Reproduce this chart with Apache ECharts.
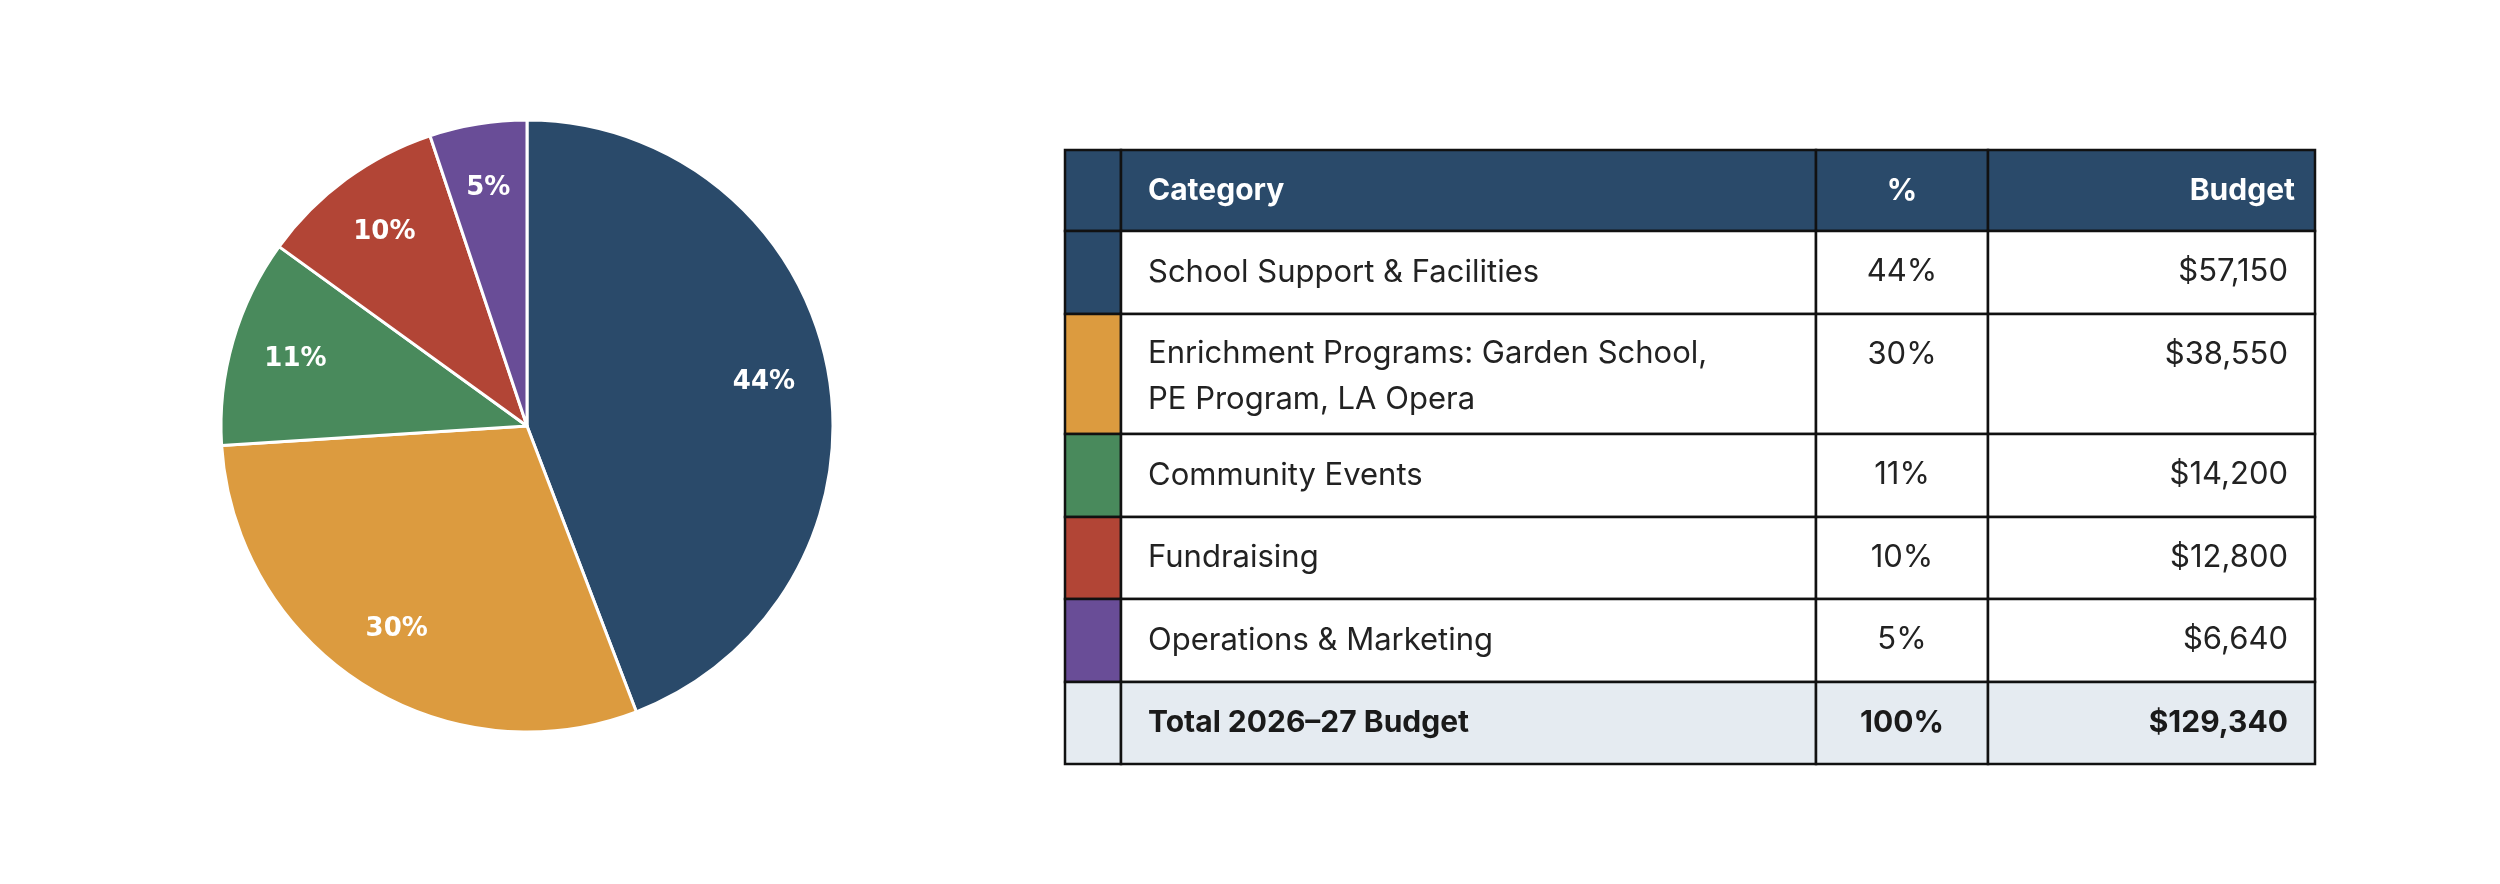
<!DOCTYPE html>
<html><head><meta charset="utf-8">
<script src="https://cdn.jsdelivr.net/npm/echarts@6/dist/echarts.min.js"></script>
<style>html,body{margin:0;padding:0;background:#fff}#main{width:2500px;height:884px}</style>
</head><body><div id="main"></div>
<script>
var categories = ['School Support & Facilities', 'Enrichment Programs: Garden School,\nPE Program, LA Opera', 'Community Events', 'Fundraising', 'Operations & Marketing'];
var budgets = [57150, 38550, 14200, 12800, 6640];
var pctLabels = ['44%', '30%', '11%', '10%', '5%'];
var budgetLabels = ['$57,150', '$38,550', '$14,200', '$12,800', '$6,640'];
var colors = ['#2a4a6a', '#dc9b3f', '#498a5c', '#b24536', '#694d97'];
var headers = ['Category', '%', 'Budget'];
var totalRow = ['Total 2026\u201327 Budget', '100%', '$129,340'];

var chart = echarts.init(document.getElementById('main'));
var font = 'Inter, "Noto Sans", sans-serif';

// table layout
var colX = [1065, 1121, 1816, 1988, 2315];
var rowY = [150, 231, 314, 434, 517, 599, 682, 764];
var g = [];
function cell(x0, x1, y0, y1, fill) {
  g.push({type: 'rect', shape: {x: x0, y: y0, width: x1 - x0, height: y1 - y0},
    style: {fill: fill, stroke: '#111', lineWidth: 2.5}});
}
function txt(s, x, y, align, bold, color) {
  g.push({type: 'text', x: x, y: y, style: {text: s, align: align, verticalAlign: 'middle',
    font: (bold ? '700 ' : '400 ') + (bold ? '30px ' : '31px ') + font, lineHeight: 46, fill: color}, z: 10});
}
// header
cell(colX[0], colX[1], rowY[0], rowY[1], colors[0]);
cell(colX[1], colX[2], rowY[0], rowY[1], colors[0]);
cell(colX[2], colX[3], rowY[0], rowY[1], colors[0]);
cell(colX[3], colX[4], rowY[0], rowY[1], colors[0]);
txt(headers[0], colX[1] + 27, (rowY[0] + rowY[1]) / 2, 'left', true, '#fff');
txt(headers[1], (colX[2] + colX[3]) / 2, (rowY[0] + rowY[1]) / 2, 'center', true, '#fff');
txt(headers[2], colX[4] - 20, (rowY[0] + rowY[1]) / 2, 'right', true, '#fff');
categories.forEach(function (c, i) {
  var y0 = rowY[i + 1], y1 = rowY[i + 2];
  cell(colX[0], colX[1], y0, y1, colors[i]);
  cell(colX[1], colX[2], y0, y1, '#fff');
  cell(colX[2], colX[3], y0, y1, '#fff');
  cell(colX[3], colX[4], y0, y1, '#fff');
  var ty = c.indexOf('\n') >= 0 ? y0 + 40 + 23 : (y0 + y1) / 2;
  txt(c, colX[1] + 27, ty, 'left', false, '#222');
  var ny = y0 + 41;
  txt(pctLabels[i], (colX[2] + colX[3]) / 2, ny, 'center', false, '#222');
  txt(budgetLabels[i], colX[4] - 27, ny, 'right', false, '#222');
});
var ty0 = rowY[6], ty1 = rowY[7];
for (var k = 0; k < 4; k++) cell(colX[k], colX[k + 1], ty0, ty1, '#e5ebf1');
txt(totalRow[0], colX[1] + 27, (ty0 + ty1) / 2, 'left', true, '#1a1a1a');
txt(totalRow[1], (colX[2] + colX[3]) / 2, (ty0 + ty1) / 2, 'center', true, '#1a1a1a');
txt(totalRow[2], colX[4] - 27, (ty0 + ty1) / 2, 'right', true, '#1a1a1a');

var pieData = budgets.map(function (v, i) { return {value: v, name: categories[i], itemStyle: {color: colors[i]}}; });
chart.setOption({
  animation: false,
  series: [{
    type: 'pie', center: [527, 426], radius: [0, 306], startAngle: 90, clockwise: true,
    itemStyle: {borderColor: '#fff', borderWidth: 3},
    label: {show: false}, labelLine: {show: false}, data: pieData
  }, {
    type: 'pie', center: [527, 426], radius: [170, 306], startAngle: 90, clockwise: true, silent: true,
    itemStyle: {color: 'transparent'},
    label: {show: true, position: 'inside', color: '#fff', fontWeight: 'bold', fontSize: 26,
      fontFamily: '"DejaVu Sans", sans-serif',
      formatter: function (p) { return pctLabels[p.dataIndex]; }},
    data: budgets.map(function (v) { return {value: v}; })
  }],
  graphic: g
});
</script></body></html>
